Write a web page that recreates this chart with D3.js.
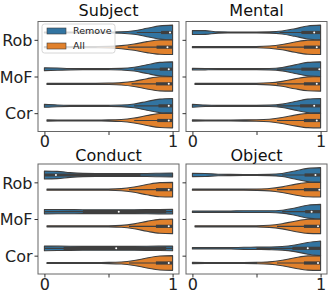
<!DOCTYPE html>
<html>
<head>
<meta charset="utf-8">
<script src="https://cdn.jsdelivr.net/npm/d3@7"></script>
<style>
  body { margin: 0; background: #fff; }
  text { font-family: "DejaVu Sans", sans-serif; }
</style>
</head>
<body>
<script>
// violins: 4 panels x 3 metrics x 2 settings, densities
const panels = ["Subject", "Mental", "Conduct", "Object"];
const categories = ["Rob", "MoF", "Cor"];
const hues = ["Remove", "All"];
const colors = ["#3274a1", "#e1812c"];
const gridX = [0, 0.1, 0.2, 0.3, 0.4, 0.5, 0.6, 0.7, 0.8, 0.9, 1.0];

// relative half-width at gridX, order: Rob-Remove, Rob-All, MoF-Remove, MoF-All, Cor-Remove, Cor-All
const subjectDensity = [
  [0.07, 0.06, 0.06, 0.06, 0.06, 0.07, 0.1, 0.24, 0.57, 0.9, 1.0],
  [0.08, 0.07, 0.07, 0.07, 0.08, 0.11, 0.21, 0.43, 0.75, 0.97, 1.0],
  [0.2, 0.15, 0.09, 0.07, 0.07, 0.08, 0.11, 0.26, 0.6, 0.92, 1.0],
  [0.08, 0.07, 0.07, 0.07, 0.07, 0.09, 0.16, 0.36, 0.7, 0.96, 1.0],
  [0.2, 0.12, 0.08, 0.07, 0.07, 0.08, 0.11, 0.26, 0.6, 0.92, 1.0],
  [0.08, 0.07, 0.07, 0.07, 0.07, 0.08, 0.13, 0.33, 0.68, 0.96, 1.0]
];
const mentalDensity = [
  [0.28, 0.25, 0.09, 0.07, 0.06, 0.06, 0.08, 0.2, 0.52, 0.88, 1.0],
  [0.08, 0.07, 0.07, 0.07, 0.07, 0.08, 0.15, 0.36, 0.7, 0.96, 1.0],
  [0.12, 0.09, 0.07, 0.07, 0.07, 0.07, 0.09, 0.23, 0.58, 0.92, 1.0],
  [0.08, 0.07, 0.07, 0.07, 0.07, 0.08, 0.14, 0.34, 0.68, 0.95, 1.0],
  [0.2, 0.1, 0.07, 0.07, 0.07, 0.07, 0.09, 0.23, 0.58, 0.92, 1.0],
  [0.08, 0.07, 0.07, 0.07, 0.08, 0.1, 0.18, 0.4, 0.73, 0.97, 1.0]
];
const conductDensity = [
  [0.55, 0.5, 0.32, 0.22, 0.2, 0.2, 0.2, 0.2, 0.21, 0.24, 0.26],
  [0.07, 0.07, 0.07, 0.07, 0.07, 0.08, 0.14, 0.36, 0.7, 0.96, 1.0],
  [0.3, 0.29, 0.28, 0.27, 0.27, 0.27, 0.27, 0.27, 0.28, 0.3, 0.32],
  [0.07, 0.07, 0.07, 0.07, 0.07, 0.08, 0.13, 0.33, 0.68, 0.95, 1.0],
  [0.32, 0.3, 0.28, 0.27, 0.27, 0.27, 0.27, 0.27, 0.28, 0.3, 0.32],
  [0.07, 0.07, 0.07, 0.07, 0.07, 0.08, 0.13, 0.33, 0.68, 0.95, 1.0]
];
const objectDensity = [
  [0.22, 0.2, 0.1, 0.08, 0.07, 0.07, 0.09, 0.21, 0.55, 0.9, 1.0],
  [0.08, 0.07, 0.07, 0.07, 0.07, 0.09, 0.16, 0.38, 0.72, 0.97, 1.0],
  [0.1, 0.09, 0.09, 0.1, 0.12, 0.12, 0.12, 0.2, 0.5, 0.88, 1.0],
  [0.07, 0.07, 0.07, 0.07, 0.07, 0.08, 0.14, 0.35, 0.7, 0.96, 1.0],
  [0.1, 0.09, 0.09, 0.1, 0.14, 0.16, 0.18, 0.24, 0.45, 0.8, 1.0],
  [0.08, 0.07, 0.07, 0.07, 0.07, 0.09, 0.16, 0.38, 0.72, 0.97, 1.0]
];

// smallest value of each violin
const subjectMin = [0, 0, 0, 0.02, 0, 0.02];
const mentalMin = [0, 0, 0, 0.02, 0, 0];
const conductMin = [0, 0.02, 0, 0.02, 0, 0.02];
const objectMin = [0, 0, 0, 0.02, 0, 0];

// inner box: [whisker low, q1, median, q3, whisker high]
const subjectBox = [
  [0.72, 0.91, 0.98, 1, 1], [0.65, 0.875, 0.96, 1, 1],
  [0.7, 0.9, 0.97, 1, 1], [0.68, 0.87, 0.97, 1, 1],
  [0.7, 0.89, 0.97, 1, 1], [0.7, 0.88, 0.97, 1, 1]
];
const mentalBox = [
  [0.68, 0.85, 0.95, 1, 1], [0.66, 0.87, 0.97, 1, 1],
  [0.66, 0.85, 0.99, 1, 1], [0.66, 0.87, 0.97, 1, 1],
  [0.66, 0.84, 0.95, 1, 1], [0.66, 0.87, 0.97, 1, 1]
];
const conductBox = [
  [0, 0, 0.09, 0.75, 1], [0.66, 0.87, 0.97, 1, 1],
  [0, 0.3, 0.58, 0.95, 1], [0.66, 0.87, 0.97, 1, 1],
  [0, 0.15, 0.56, 0.95, 1], [0.66, 0.87, 0.97, 1, 1]
];
const objectBox = [
  [0.7, 0.875, 0.96, 1, 1], [0.66, 0.87, 0.99, 1, 1],
  [0.7, 0.88, 0.93, 1, 1], [0.66, 0.87, 0.98, 1, 1],
  [0.5, 0.78, 0.9, 1, 1], [0.66, 0.87, 0.98, 1, 1]
];

const densities = [subjectDensity, mentalDensity, conductDensity, objectDensity];
const mins = [subjectMin, mentalMin, conductMin, objectMin];
const boxes = [subjectBox, mentalBox, conductBox, objectBox];

const xTicks = [0, 0.5, 1];
const xTickLabels = ["0", "", "1"];

const W = 332, H = 298;
const colLeft = [38, 186];
const rowTop = [21.5, 164];
const titleGap = [5.5, 3.5];
const panelW = 141, panelH = 110;
const edge = "#3f3f3f";

const svg = d3.select("body").append("svg")
  .attr("width", W)
  .attr("height", H);

panels.forEach(function(name, p) {
  const col = p % 2, row = Math.floor(p / 2);
  const left = colLeft[col], top = rowTop[row];

  const x = d3.scaleLinear().domain([-0.05, 1.05]).range([left, left + panelW]);
  const y = d3.scaleLinear().domain([-0.5, 2.5]).range([top, top + panelH]);
  const halfUnit = y(0.2) - y(0);

  const g = svg.append("g");

  // violins
  categories.forEach(function(cat, ci) {
    hues.forEach(function(hue, hi) {
      const k = ci * 2 + hi;
      const cy = y(ci + (hi === 0 ? -0.2 : 0.2));
      const prof = densities[p][k];
      const pts = gridX.map(function(v, i) {
        return {v: i === 0 ? mins[p][k] : v, w: prof[i]};
      });
      const area = d3.area()
        .curve(d3.curveMonotoneX)
        .x(function(d) { return x(d.v); })
        .y0(function(d) { return cy - d.w * halfUnit; })
        .y1(function(d) { return cy + d.w * halfUnit; });

      g.append("path")
        .attr("d", area(pts))
        .attr("fill", colors[hi])
        .attr("stroke", edge)
        .attr("stroke-width", 1.1)
        .attr("stroke-linejoin", "round");

      const b = boxes[p][k];
      g.append("line")
        .attr("x1", x(b[0])).attr("x2", x(b[4]))
        .attr("y1", cy).attr("y2", cy)
        .attr("stroke", edge).attr("stroke-width", 1.1);
      g.append("line")
        .attr("x1", x(b[1])).attr("x2", x(b[3]))
        .attr("y1", cy).attr("y2", cy)
        .attr("stroke", edge).attr("stroke-width", 3.2);
      g.append("circle")
        .attr("cx", x(b[2])).attr("cy", cy)
        .attr("r", 1)
        .attr("fill", "#fff");
    });
  });

  // frame
  g.append("rect")
    .attr("x", left).attr("y", top)
    .attr("width", panelW).attr("height", panelH)
    .attr("fill", "none")
    .attr("stroke", "#666")
    .attr("stroke-width", 1);

  // axes
  const yAxis = d3.axisLeft(y)
    .tickValues([0, 1, 2])
    .tickSize(3.5)
    .tickPadding(2)
    .tickFormat(function(i) { return col === 0 ? categories[i] : ""; });
  const ya = g.append("g").attr("transform", "translate(" + left + ",0)").call(yAxis);
  ya.select(".domain").remove();
  ya.selectAll("text").style("font-size", "16px").attr("fill", "#222").attr("dy", "0.36em");
  ya.selectAll("line").attr("stroke", "#333");

  const xAxis = d3.axisBottom(x)
    .tickValues(xTicks)
    .tickSize(3.5)
    .tickPadding(1)
    .tickFormat(function(d, i) { return xTickLabels[i]; });
  const xa = g.append("g").attr("transform", "translate(0," + (top + panelH) + ")").call(xAxis);
  xa.select(".domain").remove();
  xa.selectAll("text").style("font-size", "16px").attr("fill", "#222");
  xa.selectAll("line").attr("stroke", "#333");

  // title
  g.append("text")
    .attr("x", left + panelW / 2)
    .attr("y", top - titleGap[row])
    .attr("text-anchor", "middle")
    .style("font-size", "16px")
    .attr("fill", "#111")
    .text(name);
});

// legend in the first panel
const lg = svg.append("g");
lg.append("rect")
  .attr("x", 42).attr("y", 24)
  .attr("width", 73).attr("height", 29)
  .attr("rx", 2.5)
  .attr("fill", "#fff").attr("fill-opacity", 0.8)
  .attr("stroke", "#ccc").attr("stroke-width", 0.8);
hues.forEach(function(hue, hi) {
  const yy = 31 + hi * 15;
  lg.append("rect")
    .attr("x", 47).attr("y", yy - 3)
    .attr("width", 19).attr("height", 6)
    .attr("fill", colors[hi])
    .attr("stroke", edge).attr("stroke-width", 0.6);
  lg.append("text")
    .attr("x", 73).attr("y", yy + 3.4)
    .style("font-size", "9.5px")
    .attr("fill", "#222")
    .text(hue);
});
</script>
</body>
</html>
